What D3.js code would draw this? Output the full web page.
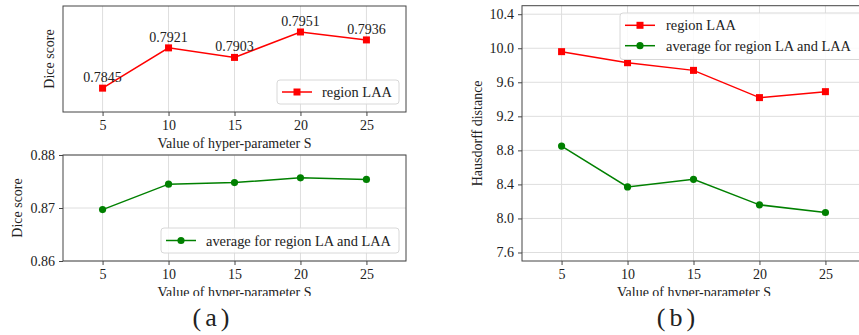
<!DOCTYPE html>
<html>
<head>
<meta charset="utf-8">
<script src="https://cdn.jsdelivr.net/npm/d3@7"></script>
<style>
  body { margin: 0; background: #fff; }
  text { font-family: "Liberation Serif", "Times New Roman", serif; fill: #222; }
</style>
</head>
<body>
<div id="chart"></div>
<script>
// data
const sValues = [5, 10, 15, 20, 25];
const diceLAA = [0.7845, 0.7921, 0.7903, 0.7951, 0.7936];
const diceAvg = [0.8697, 0.8745, 0.8748, 0.8757, 0.8754];
const hdLAA = [9.96, 9.83, 9.74, 9.42, 9.49];
const hdAvg = [8.85, 8.37, 8.46, 8.16, 8.07];
const diceAvgTicks = [0.86, 0.87, 0.88];
const hdTicks = [7.6, 8.0, 8.4, 8.8, 9.2, 9.6, 10.0, 10.4];

const svgWidth = 859;
const svgHeight = 335;
const red = '#ff0000';
const green = '#008000';
const gridColor = '#dedede';
const frameColor = '#444';

const svg = d3.select('#chart').append('svg')
  .attr('width', svgWidth)
  .attr('height', svgHeight);

// clip for the cut off bottom labels
svg.append('clipPath').attr('id', 'pageClip')
  .append('rect').attr('x', 0).attr('y', 0).attr('width', svgWidth).attr('height', 296);

// draws one panel: frame, grid, axes and labels
const drawPanel = (opts) => {
  const { x, y, yTicks, xLabel, xLabelX, xLabelY, yLabel, yLabelX } = opts;
  const [x0, x1] = x.range();
  const [y1, y0] = y.range();
  const g = svg.append('g');

  // vertical grid
  g.selectAll('.vgrid').data(sValues).enter().append('line')
    .attr('x1', d => x(d)).attr('x2', d => x(d))
    .attr('y1', y0).attr('y2', y1)
    .attr('stroke', gridColor).attr('stroke-width', 1);

  // horizontal grid
  g.selectAll('.hgrid').data(yTicks).enter().append('line')
    .attr('x1', x0).attr('x2', x1)
    .attr('y1', d => y(d)).attr('y2', d => y(d))
    .attr('stroke', gridColor).attr('stroke-width', 1);

  // x axis
  const xAxis = g.append('g')
    .attr('transform', `translate(0, ${y1})`)
    .call(d3.axisBottom(x).tickValues(sValues).tickSize(4).tickPadding(4));
  xAxis.attr('font-family', null);
  xAxis.select('.domain').remove();
  xAxis.selectAll('text').attr('font-size', '14px').attr('fill', '#222');
  xAxis.selectAll('line').attr('stroke', frameColor);

  // y axis
  const yAxis = g.append('g')
    .attr('transform', `translate(${x0}, 0)`)
    .call(d3.axisLeft(y).tickValues(yTicks).tickSize(4).tickPadding(4)
      .tickFormat(opts.yFormat || d3.format('.1f')));
  yAxis.attr('font-family', null);
  yAxis.select('.domain').remove();
  yAxis.selectAll('text').attr('font-size', '14px').attr('fill', '#222');
  yAxis.selectAll('line').attr('stroke', frameColor);

  // frame
  g.append('rect')
    .attr('x', x0).attr('y', y0)
    .attr('width', x1 - x0).attr('height', y1 - y0)
    .attr('fill', 'none').attr('stroke', frameColor).attr('stroke-width', 1);

  // axis labels
  svg.append('text')
    .attr('x', xLabelX)
    .attr('y', xLabelY)
    .attr('text-anchor', 'middle')
    .attr('font-size', '14px')
    .attr('clip-path', 'url(#pageClip)')
    .text(xLabel);

  svg.append('text')
    .attr('transform', `translate(${yLabelX}, ${(y0 + y1) / 2}) rotate(-90)`)
    .attr('text-anchor', 'middle')
    .attr('font-size', '14px')
    .text(yLabel);

  return g;
};

const drawSeries = (g, x, y, values, color, marker) => {
  const line = d3.line().x((d, i) => x(sValues[i])).y(d => y(d));
  g.append('path')
    .datum(values)
    .attr('d', line)
    .attr('fill', 'none')
    .attr('stroke', color)
    .attr('stroke-width', 1.5);
  if (marker === 'square') {
    g.selectAll(null).data(values).enter().append('rect')
      .attr('x', (d, i) => x(sValues[i]) - 3.5)
      .attr('y', d => y(d) - 3.5)
      .attr('width', 7).attr('height', 7)
      .attr('fill', color);
  } else {
    g.selectAll(null).data(values).enter().append('circle')
      .attr('cx', (d, i) => x(sValues[i]))
      .attr('cy', d => y(d))
      .attr('r', 3.6)
      .attr('fill', color);
  }
};

const drawLegend = (bx, by, bw, bh, entries) => {
  const lg = svg.append('g');
  lg.append('rect')
    .attr('x', bx).attr('y', by).attr('width', bw).attr('height', bh)
    .attr('rx', 3).attr('fill', '#fff').attr('fill-opacity', 0.85)
    .attr('stroke', '#d8d8d8');
  entries.forEach((e) => {
    const cy = by + e.dy;
    lg.append('line')
      .attr('x1', bx + 5).attr('x2', bx + 35)
      .attr('y1', cy).attr('y2', cy)
      .attr('stroke', e.color).attr('stroke-width', 1.5);
    if (e.marker === 'square') {
      lg.append('rect').attr('x', bx + 16.5).attr('y', cy - 3.5)
        .attr('width', 7).attr('height', 7).attr('fill', e.color);
    } else {
      lg.append('circle').attr('cx', bx + 20).attr('cy', cy).attr('r', 3.6).attr('fill', e.color);
    }
    lg.append('text')
      .attr('x', bx + e.tx).attr('y', cy + 5)
      .attr('font-size', '14.4px')
      .text(e.label);
  });
};

// (a) top: Dice score for region LAA
const xA = d3.scaleLinear().domain([2, 28]).range([63, 406]);
const yA1 = d3.scaleLinear().domain([0.78, 0.80]).range([112, 6]);
const gA1 = drawPanel({
  x: xA, y: yA1, yTicks: [],
  xLabel: 'Value of hyper-parameter S', xLabelX: 234.5, xLabelY: 148,
  yLabel: 'Dice score', yLabelX: 54
});
drawSeries(gA1, xA, yA1, diceLAA, red, 'square');
gA1.selectAll('.note').data(diceLAA).enter().append('text')
  .attr('x', (d, i) => xA(sValues[i]))
  .attr('y', d => yA1(d) - 6)
  .attr('text-anchor', 'middle')
  .attr('font-size', '14px')
  .text(d => d3.format('.4f')(d));
drawLegend(277, 80, 122, 24, [
  { label: 'region LAA', color: red, marker: 'square', dy: 12, tx: 45 }
]);

// (a) bottom: average Dice score
const yA2 = d3.scaleLinear().domain([0.86, 0.88]).range([261, 155]);
const gA2 = drawPanel({
  x: xA, y: yA2, yTicks: diceAvgTicks, yFormat: d3.format('.2f'),
  xLabel: 'Value of hyper-parameter S', xLabelX: 234.5, xLabelY: 297,
  yLabel: 'Dice score', yLabelX: 22
});
drawSeries(gA2, xA, yA2, diceAvg, green, 'circle');
drawLegend(161, 228, 238, 25, [
  { label: 'average for region LA and LAA', color: green, marker: 'circle', dy: 12.5, tx: 45 }
]);

// (b) Hausdorff distance
const xB = d3.scaleLinear().domain([2, 28]).range([522, 865]);
const yB = d3.scaleLinear().domain([7.5, 10.5]).range([261, 5.7]);
const gB = drawPanel({
  x: xB, y: yB, yTicks: hdTicks,
  xLabel: 'Value of hyper-parameter S', xLabelX: 694, xLabelY: 297,
  yLabel: 'Hausdorff distance', yLabelX: 482
});
drawSeries(gB, xB, yB, hdLAA, red, 'square');
drawSeries(gB, xB, yB, hdAvg, green, 'circle');
drawLegend(620, 13, 245, 46.5, [
  { label: 'region LAA', color: red, marker: 'square', dy: 12.3, tx: 46 },
  { label: 'average for region LA and LAA', color: green, marker: 'circle', dy: 32.7, tx: 46 }
]);

// captions
svg.append('text')
  .attr('x', 213).attr('y', 326)
  .attr('text-anchor', 'middle')
  .attr('font-size', '26px')
  .attr('letter-spacing', '4px')
  .text('(a)');
svg.append('text')
  .attr('x', 678).attr('y', 326)
  .attr('text-anchor', 'middle')
  .attr('font-size', '26px')
  .attr('letter-spacing', '4px')
  .text('(b)');
</script>
</body>
</html>
